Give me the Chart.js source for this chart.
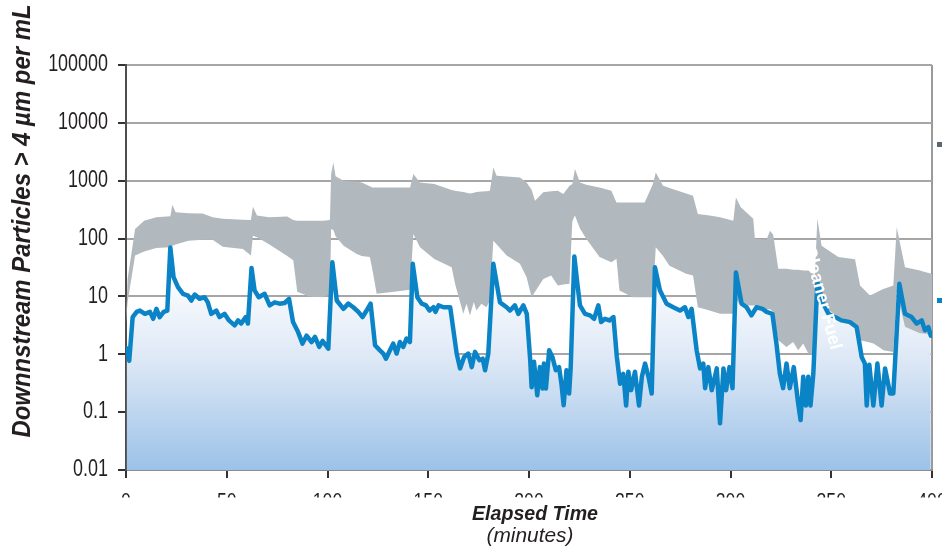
<!DOCTYPE html>
<html>
<head>
<meta charset="utf-8">
<script src="https://cdn.jsdelivr.net/npm/chart.js@4.4.1/dist/chart.umd.min.js"></script>
<style>
  html, body { margin: 0; padding: 0; background: #fff; }
  #wrap { width: 942px; height: 547px; }
</style>
</head>
<body>
<div id="wrap"><canvas id="particleChart" width="942" height="547"></canvas></div>
<script>
// downstream particle count (blue line)
const elapsedMin = [
  0.3, 1.6, 3.3, 5.3, 6.9, 9.4, 11.9, 13.5, 15.1, 16.7,
  18.7, 20.5, 22.0, 23.6, 25.8, 28.3, 30.8, 32.4, 34.1, 36.5,
  39, 40.6, 42.3, 44.8, 46.4, 48.9, 51.1, 53.9, 55.6, 57.2,
  59.4, 60.5, 62.3, 63.8, 65.9, 68.8, 71.3, 73.8, 76.2, 78.7,
  80.9, 82.9, 85.4, 87.6, 89.6, 92.1, 93.8, 95.9, 97.6, 100.4,
  102.4, 104.6, 107.9, 110.3, 112.8, 115.3, 117.4, 119.4, 121.4, 123.6,
  126, 127.7, 129, 131, 132.6, 134.3, 135.9, 137.6, 139.2, 140.9,
  142.3, 144.6, 146.8, 148.9, 150.6, 152.6, 153.6, 155.1, 157.6, 160.9,
  164.1, 165.8, 167.8, 169.9, 171.6, 173.2, 175.4, 177, 178.2, 179.8,
  182.3, 185.6, 188.9, 190.6, 193, 194.7, 197.2, 198.9, 200.6, 201.3,
  202.5, 204.1, 205.4, 206.7, 207.4, 208.4, 210, 211.6, 213.3, 214.9,
  216.1, 217.2, 218.6, 219.9, 220.7, 222.5, 224, 225.3, 227.8, 230.3,
  232.3, 234.4, 235.8, 237.7, 239.9, 241.9, 243.6, 245.2, 246.8, 248.2,
  249.3, 250.7, 252.6, 254.6, 256, 257.6, 259.3, 260.9, 262.5, 265,
  268.3, 271.6, 274.9, 277.4, 279.1, 280.7, 283.2, 284.9, 286.5, 287.4,
  289, 290.7, 293.2, 294.8, 296.5, 297.8, 299.5, 301, 302.7, 305.5,
  308, 310.4, 312.9, 315.9, 317.9, 320.8, 322.8, 324.5, 326.1, 327.8,
  329.4, 331.4, 333.6, 334.8, 336.1, 337.4, 338.6, 339.7, 341.1, 343.1,
  346.1, 348.6, 351.9, 355.2, 359.3, 362.6, 365.1, 366.7, 367.6, 368.9,
  370.9, 372.9, 375, 376.7, 379.2, 380.8, 383.8, 386.6, 389.9, 392.4,
  394.9, 396.5, 398.2, 399.4
];
const downstream = [
  1.27, 0.77, 4.4, 5.4, 5.7, 5.0, 5.4, 4.1, 6.1, 4.4,
  5.4, 5.7, 70, 21.5, 14.5, 11.1, 10.3, 8.5, 10.8, 9.1,
  9.7, 7.9, 5.0, 5.7, 4.4, 5.0, 3.85, 3.16, 3.85, 3.4,
  4.4, 3.4, 31, 12.7, 9.7, 11.1, 7.0, 7.9, 7.5, 7.7,
  9.1, 3.6, 2.42, 1.53, 2.1, 1.63, 2.0, 1.34, 1.7, 1.25,
  39, 8.5, 6.1, 7.5, 6.5, 5.4, 4.4, 5.7, 7.5, 1.43,
  1.17, 1.03, 0.84, 1.17, 1.53, 1.03, 1.63, 1.34, 1.86, 1.63,
  36.6, 9.7, 7.5, 7.0, 5.7, 6.5, 5.4, 7.0, 6.5, 6.5,
  1.03, 0.57, 0.9, 1.03, 0.6, 1.1, 0.79, 0.84, 0.53, 1.03,
  36.6, 7.9, 6.5, 5.7, 7.0, 5.0, 7.0, 5.0, 0.79, 0.27,
  0.74, 0.196, 0.6, 0.256, 0.69, 0.256, 1.17, 0.9, 0.53, 0.6,
  0.31, 0.132, 0.53, 0.21, 0.6, 49, 16.5, 7.0, 5.0, 4.7,
  4.1, 7.0, 3.6, 4.1, 3.85, 4.4, 0.9, 0.31, 0.46, 0.13,
  0.5, 0.24, 0.5, 0.13, 0.41, 0.69, 0.41, 0.21, 32, 12.7,
  7.5, 6.5, 5.7, 6.5, 4.4, 6.1, 1.17, 0.57, 0.69, 0.26,
  0.6, 0.24, 0.57, 0.064, 0.57, 0.24, 0.6, 0.26, 26, 7.5,
  6.5, 4.7, 6.5, 6.1, 5.4, 5.0, 1.53, 0.46, 0.26, 0.69,
  0.26, 0.6, 0.14, 0.073, 0.41, 0.13, 0.41, 0.13, 0.46, 17.6,
  7.5, 5.0, 4.4, 3.85, 3.6, 2.96, 0.9, 0.69, 0.13, 0.66,
  0.13, 0.69, 0.13, 0.57, 0.21, 0.21, 16.5, 5.0, 4.4, 3.4,
  3.85, 2.6, 2.96, 2.1
];

// grey range band (upper / lower edge)
const bandMin = [
  0, 0.8, 4.5, 9, 15, 22, 23, 24.6, 31, 38,
  43, 48, 58, 62, 63, 65, 71, 80, 83, 85,
  91, 98, 101.2, 101.8, 102.9, 104, 108, 114.5, 117, 121,
  122.2, 124.4, 132, 141, 142.6, 145.9, 153, 161.6, 163.3, 167.4,
  169, 170.7, 172.6, 173.9, 176.4, 178.9, 180.6, 182.3, 183.9, 188.9,
  195.5, 198.8, 201.3, 203, 207.1, 211, 214.3, 217, 220.1, 221.5,
  222.8, 225.3, 228.4, 235, 240.9, 243.4, 244.9, 251.5, 257.4, 261.5,
  262.9, 266.5, 269.7, 278, 281.4, 283.8, 289.6, 294.8, 301.4, 302.7,
  305, 311.3, 312.1, 317.9, 319.6, 321.2, 323.7, 327.8, 331.1, 333.6,
  336.1, 338.6, 341.9, 343.1, 345.2, 353.5, 361.8, 364.3, 369.2, 370.9,
  374.2, 375.9, 380.8, 382.5, 386.6, 394, 397.3, 400
];
const bandHigh = [
  4, 20, 147, 204, 233, 243, 385, 284, 275, 272,
  233, 219, 212, 210, 356, 250, 233, 240, 210, 204,
  204, 204, 210, 1306, 2070, 1200, 1000, 960, 935, 800,
  767, 767, 767, 767, 1306, 935, 877, 690, 672, 640,
  620, 603, 620, 640, 650, 660, 672, 1700, 1219, 1180,
  1140, 935, 700, 452, 630, 660, 672, 590, 820, 877,
  1590, 935, 850, 760, 672, 422, 422, 422, 422, 877,
  1380, 820, 750, 600, 550, 267, 250, 233, 204, 515,
  350, 219, 99, 95, 137, 117, 30, 30, 29, 29,
  28, 28, 24, 219, 75, 48, 44, 15.5, 10.4, 11,
  12.7, 13.5, 15.5, 157, 32, 28, 26, 24.6
];
const bandLow = [
  3.5, 8, 51, 60, 69, 71, 75, 79, 92, 95,
  95, 72, 66, 51, 112, 105, 80, 50, 42, 12,
  10, 9.7, 11, 147, 140, 110, 75, 54, 50, 48,
  30, 11.1, 11.9, 13, 120, 71, 44.5, 32, 16.5, 5.0,
  7.5, 4.7, 8, 5.7, 7.5, 6.5, 8.5, 92, 80, 51,
  36.6, 21.5, 9.7, 12, 20, 23, 15.5, 16, 16.5, 200,
  250, 150, 99, 48, 39, 45, 12.7, 9.7, 9.7, 9.7,
  71, 50, 34, 24.6, 23, 6.5, 5.7, 5.0, 5.0, 9,
  7, 7, 7, 6, 6, 5.5, 1.74, 1.34, 1.63, 1.17,
  1.53, 1.03, 1.03, 12, 7, 4.5, 3.4, 1.74, 1.6, 1.53,
  1.3, 1.17, 1.1, 12, 3, 2.3, 2.27, 2.0
];

const yTicks = [0.01, 0.1, 1, 10, 100, 1000, 10000, 100000];
const xTicks = [0, 50, 100, 150, 200, 250, 300, 350, 400];

const FONT = "'Liberation Sans', Arial, sans-serif";
const BLUE = '#0a84c6';
const GREY = '#b1b9be';
const INK = '#231f20';

const linePts = elapsedMin.map((m, i) => ({ x: m, y: downstream[i] }));
const highPts = bandMin.map((m, i) => ({ x: m, y: bandHigh[i] }));
const lowPts = bandMin.map((m, i) => ({ x: m, y: bandLow[i] }));

function blueGradient(context) {
  const area = context.chart.chartArea;
  if (!area) return 'rgba(160,196,232,0.6)';
  const g = context.chart.ctx.createLinearGradient(0, 270, 0, area.bottom);
  g.addColorStop(0, '#ffffff');
  g.addColorStop(0.45, '#dde8f6');
  g.addColorStop(1, '#9cc2e8');
  return g;
}

// text squeezed to a given width (centred)
function drawFitted(ctx, text, font, x, y, targetW, angle, baseline) {
  ctx.save();
  ctx.translate(x, y);
  ctx.rotate(angle || 0);
  ctx.font = font;
  const w = ctx.measureText(text).width;
  ctx.scale(targetW / w, 1);
  ctx.textAlign = 'center';
  ctx.textBaseline = baseline || 'alphabetic';
  ctx.fillText(text, 0, 0);
  ctx.restore();
}

// condensed text, fixed horizontal squeeze
function drawNarrow(ctx, text, font, x, y, sx, align, baseline) {
  ctx.save();
  ctx.translate(x, y);
  ctx.scale(sx, 1);
  ctx.font = font;
  ctx.textAlign = align;
  ctx.textBaseline = baseline;
  ctx.fillText(text, 0, 0);
  ctx.restore();
}

const decorPlugin = {
  id: 'decor',
  afterDraw(chart) {
    const ctx = chart.ctx;
    const xs = chart.scales.x;
    const ys = chart.scales.y;

    ctx.fillStyle = INK;
    // y tick labels
    yTicks.forEach(v => {
      drawNarrow(ctx, String(v), '23px ' + FONT, 108, ys.getPixelForValue(v), 0.78, 'right', 'middle');
    });

    // x tick labels, cut off at the bottom like the original
    ctx.save();
    ctx.beginPath();
    ctx.rect(0, 486, chart.width, 11.5);
    ctx.clip();
    xTicks.forEach(v => {
      drawNarrow(ctx, String(v), '22px ' + FONT, xs.getPixelForValue(v), 508, 0.8, 'center', 'alphabetic');
    });
    ctx.restore();

    ctx.fillStyle = INK;
    drawFitted(ctx, 'Downnstream Particles > 4 \u00b5m per mL', 'italic bold 26px ' + FONT, 30, 221, 433, -Math.PI / 2);
    drawFitted(ctx, 'Elapsed Time', 'italic bold 21px ' + FONT, 535, 520, 126);
    drawFitted(ctx, '(minutes)', 'italic 20px ' + FONT, 530, 542, 87);

    // white label over the band
    ctx.fillStyle = '#ffffff';
    drawFitted(ctx, 'Cleaner Fuel', 'bold 18px ' + FONT, 822, 298, 106, 75 * Math.PI / 180, 'middle');

    // legend swatches cut at the right edge
    ctx.fillStyle = '#5b6770';
    ctx.fillRect(937, 142, 5, 5);
    ctx.fillStyle = BLUE;
    ctx.fillRect(937, 298, 5, 5);
  }
};

const particleChart = new Chart(document.getElementById('particleChart'), {
  type: 'line',
  data: {
    datasets: [
      {
        label: 'Downstream',
        data: linePts,
        borderColor: BLUE,
        borderWidth: 4.5,
        borderJoinStyle: 'round',
        borderCapStyle: 'round',
        pointRadius: 0,
        tension: 0,
        fill: false
      },
      {
        label: 'Range',
        data: highPts,
        borderColor: 'rgba(0,0,0,0)',
        borderWidth: 0,
        backgroundColor: GREY,
        pointRadius: 0,
        tension: 0,
        fill: '+1'
      },
      {
        label: 'Range low',
        data: lowPts,
        borderColor: 'rgba(0,0,0,0)',
        borderWidth: 0,
        pointRadius: 0,
        tension: 0,
        fill: false
      },
      {
        label: 'Downstream fill',
        data: linePts,
        borderColor: 'rgba(0,0,0,0)',
        borderWidth: 0,
        backgroundColor: blueGradient,
        pointRadius: 0,
        tension: 0,
        fill: 'start'
      }
    ]
  },
  options: {
    responsive: false,
    animation: false,
    devicePixelRatio: 1,
    layout: { padding: { top: 65, right: 10, left: 0, bottom: 0 } },
    plugins: {
      legend: { display: false },
      tooltip: { enabled: false }
    },
    scales: {
      x: {
        type: 'linear',
        min: 0,
        max: 400,
        ticks: { display: false, stepSize: 50 },
        afterFit: (s) => { s.height = 77; },
        border: { color: '#8c8c8c', width: 2 },
        grid: {
          color: (c) => (c.tick && c.tick.value === 400) ? '#9a9a9a' : 'rgba(0,0,0,0)',
          lineWidth: 2,
          drawTicks: true,
          tickLength: 8,
          tickColor: '#333333',
          tickWidth: 2
        }
      },
      y: {
        type: 'logarithmic',
        min: 0.01,
        max: 100000,
        afterBuildTicks: (s) => { s.ticks = yTicks.map(v => ({ value: v })); },
        afterFit: (s) => { s.width = 126; },
        ticks: { display: false },
        border: { color: '#4d4d4d', width: 2 },
        grid: {
          color: '#a6a6a6',
          lineWidth: 2,
          drawTicks: true,
          tickLength: 8,
          tickColor: '#333333',
          tickWidth: 2
        }
      }
    }
  },
  plugins: [decorPlugin]
});
</script>
</body>
</html>
